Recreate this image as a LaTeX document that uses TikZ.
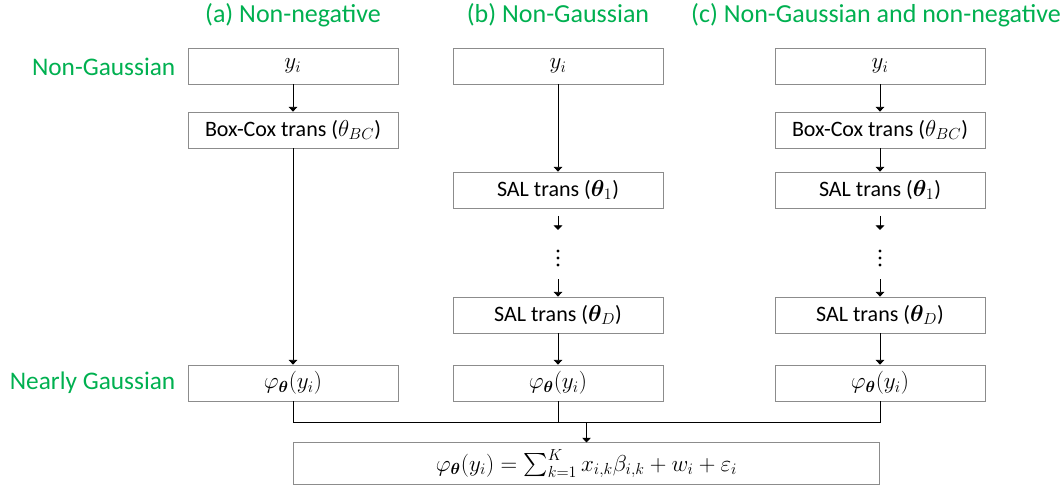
\documentclass[tikz,border=0pt]{standalone}
\usepackage{amsmath,bm}
\usepackage{fontspec}
\setmainfont{Carlito}
\usetikzlibrary{arrows.meta}
\definecolor{hdgreen}{HTML}{00B050}
\definecolor{boxgray}{HTML}{8C8C8C}
\begin{document}
\begin{tikzpicture}[x=0.75pt,y=-0.75pt,
  box/.style={draw=boxgray,line width=0.6pt,minimum width=157.5pt,minimum height=27pt,inner sep=0pt,font=\fontsize{16.5}{19}\selectfont},
  hdr/.style={text=hdgreen,font=\fontsize{19.5}{22}\selectfont},
  lbl/.style={text=hdgreen,font=\fontsize{19}{22}\selectfont,anchor=east},
  arr/.style={-{Triangle[length=3.5pt,width=6.5pt]},line width=0.6pt},
  ln/.style={line width=0.6pt},
  dot/.style={fill=black,circle,inner sep=0pt,minimum size=2.6pt}]
\useasboundingbox (0,0) rectangle (1063,488);
% headers
\node[hdr] (ha) at (293,15) {(a) Non-negative};
\node[hdr] (hb) at (558,15) {(b) Non-Gaussian};
\node[hdr] (hc) at (876,15) {(c) Non-Gaussian and non-negative};
\node[lbl] (l1) at (180,67) {Non-Gaussian};
\node[lbl] (l2) at (180,383) {Nearly Gaussian};
% column a
\node[box] (ya) at (293,66) {$y_i$};
\node[box] (bca) at (293,130) {Box-Cox trans ($\theta_{BC}$)};
\node[box] (pa) at (293,383) {$\varphi_{\bm\theta}(y_i)$};
% column b
\node[box] (yb) at (558,66) {$y_i$};
\node[box] (s1b) at (558,190) {SAL trans ($\bm\theta_1$)};
\node[dot] (db1) at (558,251) {};
\node[dot] (db2) at (558,258) {};
\node[dot] (db3) at (558,265) {};
\node[box] (sdb) at (558,315) {SAL trans ($\bm\theta_D$)};
\node[box] (pb) at (558,383) {$\varphi_{\bm\theta}(y_i)$};
% column c
\node[box] (yc) at (880,66) {$y_i$};
\node[box] (bcc) at (880,130) {Box-Cox trans ($\theta_{BC}$)};
\node[box] (s1c) at (880,190) {SAL trans ($\bm\theta_1$)};
\node[dot] (dc1) at (880,251) {};
\node[dot] (dc2) at (880,258) {};
\node[dot] (dc3) at (880,265) {};
\node[box] (sdc) at (880,315) {SAL trans ($\bm\theta_D$)};
\node[box] (pc) at (880,383) {$\varphi_{\bm\theta}(y_i)$};
% bottom
\node[box,minimum width=440pt,minimum height=31pt] (fin) at (586.5,463.5)
  {$\varphi_{\bm\theta}(y_i)=\sum_{k=1}^{K}x_{i,k}\beta_{i,k}+w_i+\varepsilon_i$};
% coordinates
\coordinate (a1b) at (558,216);
\coordinate (a2b) at (558,230);
\coordinate (b1b) at (558,279);
\coordinate (a1c) at (880,216);
\coordinate (a2c) at (880,230);
\coordinate (b1c) at (880,279);
\coordinate (ja) at (293,422);
\coordinate (jc) at (880,422);
% arrows
\draw[arr] (ya) -- (bca);
\draw[arr] (bca) -- (pa);
\draw[arr] (yb) -- (s1b);
\draw[arr] (a1b) -- (a2b);
\draw[arr] (b1b) -- (sdb);
\draw[arr] (sdb) -- (pb);
\draw[arr] (yc) -- (bcc);
\draw[arr] (bcc) -- (s1c);
\draw[arr] (a1c) -- (a2c);
\draw[arr] (b1c) -- (sdc);
\draw[arr] (sdc) -- (pc);
\draw[ln] (pa) -- (ja) -- (jc) -- (pc);
\draw[ln] (pb) -- (pb |- ja);
\draw[arr] (fin.north |- ja) -- (fin);
\end{tikzpicture}
\end{document}
